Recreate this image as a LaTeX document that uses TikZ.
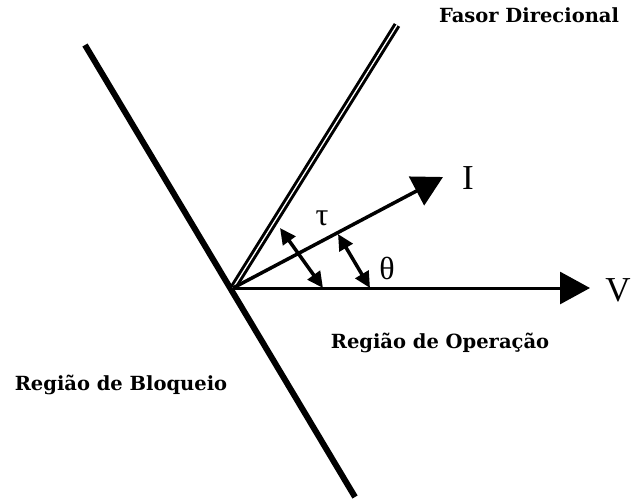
\documentclass[tikz,border=0pt]{standalone}
\usepackage{fontspec}
\setmainfont{Liberation Serif}
\newfontfamily\slabfont{DejaVu Serif}
\usetikzlibrary{arrows.meta}

\begin{document}
\begin{tikzpicture}[x=1pt,y=-1pt,
    regiao/.style={font=\slabfont\bfseries\fontsize{19.5}{19.5}\selectfont},
    letra/.style={font=\fontsize{35}{35}\selectfont},
    grego/.style={font=\fontsize{32}{32}\selectfont},
    seta/.style={line width=3.5pt,-{Triangle[length=30pt,width=32pt]}},
    dupla/.style={line width=3.5pt,{Triangle[length=16pt,width=15pt]}-{Triangle[length=16pt,width=15pt]}}]
    \useasboundingbox (0,0) rectangle (632,501);
    \coordinate (O) at (233,288);
    \coordinate (bloqA) at (85,45);
    \coordinate (bloqB) at (355,497);
    \coordinate (fasor) at (397,25);
    \coordinate (Ifim) at (443,177);
    \coordinate (Vfim) at (590,288);
    \coordinate (tauA) at (280,228);
    \coordinate (tauB) at (323,288);
    \coordinate (thA) at (338,234);
    \coordinate (thB) at (370,288);
    \draw[line width=6pt] (bloqA) -- (bloqB);
    \draw[line width=3pt,double,double distance=1.3pt] (O) -- (fasor);
    \draw[seta] (O) -- (Ifim);
    \draw[seta,line width=3pt] (O) -- (Vfim);
    \draw[dupla] (tauA) -- (tauB);
    \draw[dupla] (thA) -- (thB);
    \node[letra] (I) at (468,178) {I};
    \node[letra] (V) at (618,290) {V};
    \node[grego] (tau) at (322,218) {τ};
    \node[grego] (theta) at (387,268) {θ};
    \node[regiao] (fd) at (529,15) {Fasor Direcional};
    \node[regiao] (rop) at (440,343) {Região de Operação};
    \node[regiao] (rbl) at (121,385) {Região de Bloqueio};
\end{tikzpicture}
\end{document}
